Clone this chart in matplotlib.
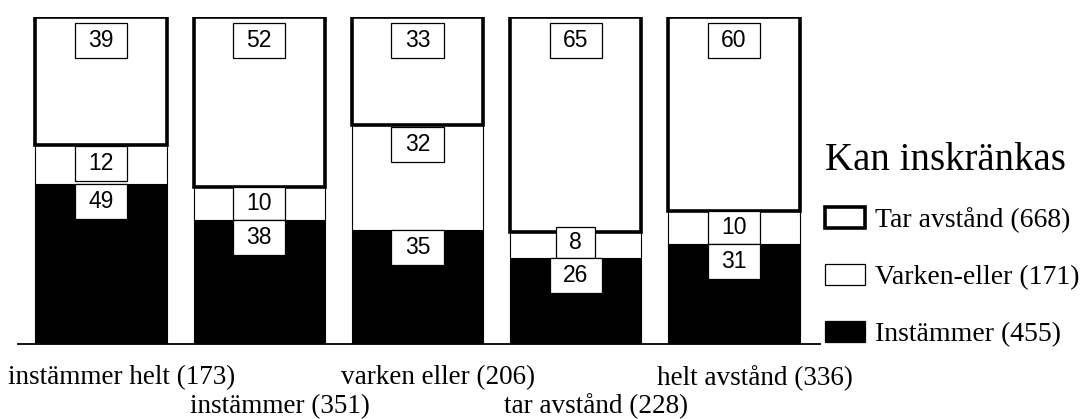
import matplotlib
matplotlib.use("Agg")
import matplotlib.pyplot as plt
from matplotlib.patches import Patch, Rectangle
import numpy as np

# answer groups (x axis) and the three response shares per group
groups = ["instämmer helt (173)", "instämmer (351)", "varken eller (206)",
          "tar avstånd (228)", "helt avstånd (336)"]
instammer = [49, 38, 35, 26, 31]
varken = [12, 10, 32, 8, 10]
tar_avstand = [39, 52, 33, 65, 60]

legend_title = "Kan inskränkas"
legend_labels = ["Tar avstånd (668)", "Varken-eller (171)", "Instämmer (455)"]

serif = "Liberation Serif"
sans = "Liberation Sans"

fig = plt.figure(figsize=(10.86, 4.19), dpi=100)
ax = fig.add_axes([18 / 1086, 75 / 419, (820 - 18) / 1086, (344 - 17) / 419])

x = np.arange(len(groups))
ins = np.array(instammer, dtype=float)
var = np.array(varken, dtype=float)
tar = np.array(tar_avstand, dtype=float)
tot = ins + var + tar
# bars are drawn to full height, labels show the printed percentages
ins_h = ins / tot * 100
var_h = var / tot * 100
tar_h = tar / tot * 100

w = 0.83
ax.bar(x, ins_h, w, color="black", edgecolor="black", lw=0.8, zorder=2)
ax.bar(x, var_h, w, bottom=ins_h, color="white", edgecolor="black", lw=0.8, zorder=2)
ax.bar(x, tar_h, w, bottom=ins_h + var_h, color="white", edgecolor="black",
       lw=2.6, zorder=3)

box_h = 10.7


def label_box(xc, top, h, txt):
    bw = 0.33 if len(txt) > 1 else 0.245
    ax.add_patch(Rectangle((xc - bw / 2, top - h), bw, h, facecolor="white",
                           edgecolor="black", lw=0.9, zorder=5))
    ax.text(xc, top - h / 2, txt, ha="center", va="center", fontsize=16.5,
            family=sans, zorder=6)


for i in range(len(groups)):
    label_box(x[i], 100 - 1.9, box_h, str(tar_avstand[i]))
    vtop = ins_h[i] + var_h[i]
    if var_h[i] <= box_h:
        h = max(var_h[i], 9.5)
        label_box(x[i], ins_h[i] + h, h, str(varken[i]))
    else:
        label_box(x[i], vtop - 0.6, box_h, str(varken[i]))
    label_box(x[i], ins_h[i], box_h, str(instammer[i]))

ax.set_xlim(-0.525, 4.544)
ax.set_ylim(0, 100)
for s in ["top", "right", "left"]:
    ax.spines[s].set_visible(False)
ax.spines["bottom"].set_linewidth(1.3)
ax.set_xticks([])
ax.set_yticks([])
ax.patch.set_alpha(0)

# staggered category labels
for i, g in enumerate(groups):
    yy = -0.104 if i % 2 == 0 else -0.19
    ax.text(x[i] + 0.13, yy, g, transform=ax.get_xaxis_transform(),
            ha="center", va="center", fontsize=19.5, family=serif)

# legend title set apart so the gap to the entries can match
fig.text(825 / 1086, 1 - 160 / 419, legend_title, ha="left", va="center",
         family=serif, fontsize=28)
handles = [Patch(facecolor="white", edgecolor="black", lw=2.6),
           Patch(facecolor="white", edgecolor="black", lw=0.9),
           Patch(facecolor="black", edgecolor="black", lw=0.9)]
leg = fig.legend(handles, legend_labels, loc="upper left",
                 bbox_to_anchor=(825 / 1086, 1 - 207 / 419), frameon=False,
                 borderpad=0, borderaxespad=0,
                 prop={"family": serif, "size": 20},
                 handlelength=1.45, handleheight=0.8, handletextpad=0.35,
                 labelspacing=1.1)

fig.savefig("out.png", dpi=100)
